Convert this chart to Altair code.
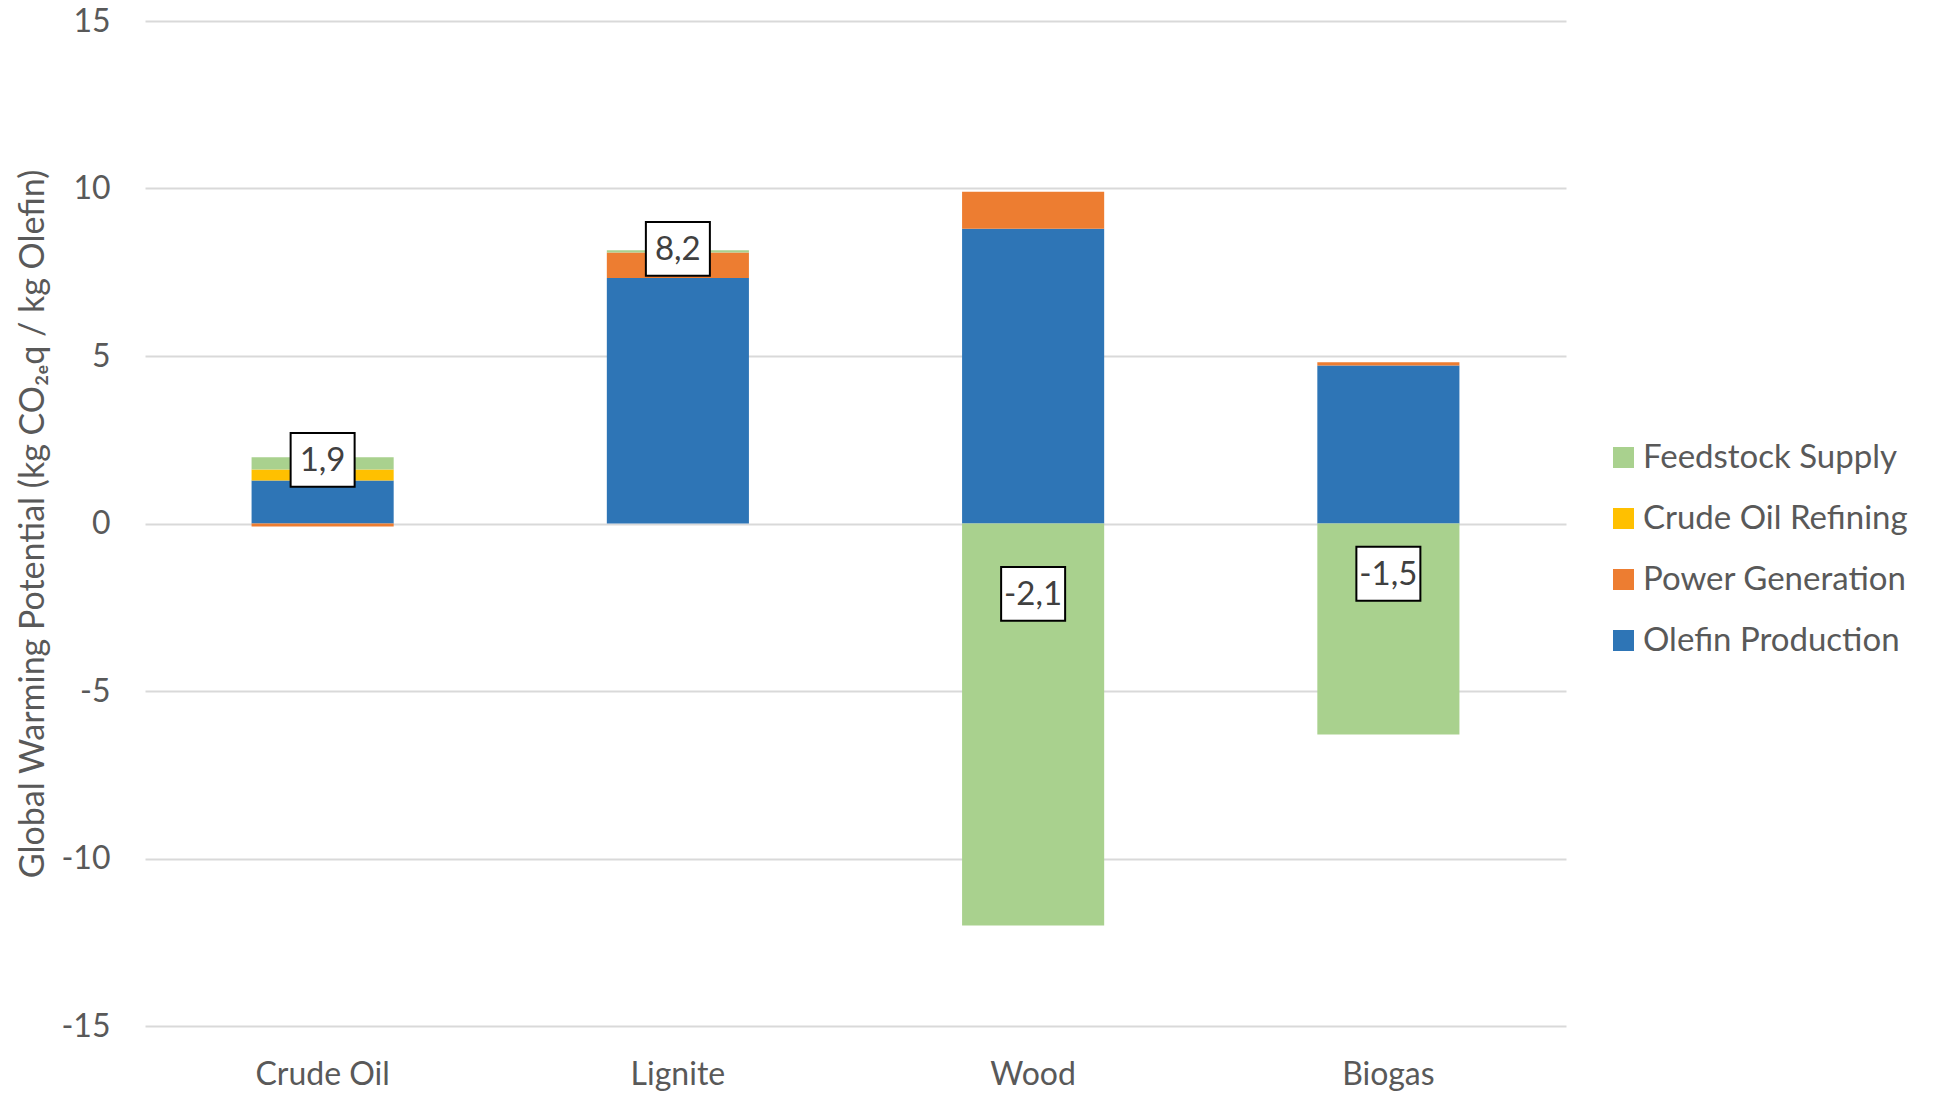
import altair as alt
import pandas as pd

categories = ["Crude Oil", "Lignite", "Wood", "Biogas"]
series = ["Olefin Production", "Power Generation", "Crude Oil Refining", "Feedstock Supply"]
olefin_production = [1.28, 7.33, 8.80, 4.72]
power_generation = [-0.09, 0.76, 1.10, 0.09]
crude_oil_refining = [0.33, 0.0, 0.0, 0.0]
feedstock_supply = [0.37, 0.07, -12.0, -6.30]
totals = [1.9, 8.2, -2.1, -1.5]
total_labels = ["1,9", "8,2", "-2,1", "-1,5"]
colors = ["#2E75B6", "#ED7D31", "#FFC000", "#A9D18E"]
legend_order = ["Feedstock Supply", "Crude Oil Refining", "Power Generation", "Olefin Production"]

rows = []
for i, c in enumerate(categories):
    for k, (s, vals) in enumerate(zip(series, [olefin_production, power_generation, crude_oil_refining, feedstock_supply])):
        rows.append({"cat": c, "series": s, "value": vals[i], "order": k})
df = pd.DataFrame(rows)
tot = pd.DataFrame({"cat": categories, "total": totals, "label": total_labels})

FONT = "Lato"
TXT = "#595959"
H = 1005

x_enc = alt.X("cat:N", sort=categories, title=None,
              scale=alt.Scale(paddingInner=0.6, paddingOuter=0.3),
              axis=alt.Axis(domain=False, ticks=False, labelAngle=0, labelFontSize=32,
                            labelColor=TXT, labelFont=FONT, labelPadding=33, grid=False))
y_scale = alt.Scale(domain=[-15, 15], nice=False)

bars = alt.Chart(df).mark_bar().encode(
    x=x_enc,
    y=alt.Y("value:Q", stack="zero", scale=y_scale,
            title="Global Warming Potential (kg CO₂ₑq / kg Olefin)",
            axis=alt.Axis(values=[-15, -10, -5, 0, 5, 10, 15], domain=False, ticks=False,
                          labelExpr="replace(format(datum.value, 'd'), '−', '-')",
                          labelFontSize=32, labelColor=TXT, labelFont=FONT, labelPadding=35,
                          gridColor="#D9D9D9", gridWidth=2,
                          titleFont=FONT, titleFontSize=34, titleColor=TXT, titleFontWeight="normal",
                          titleX=-112, titleY=H / 2, titleAngle=270, titleAlign="center",
                          titleBaseline="middle")),
    color=alt.Color("series:N", scale=alt.Scale(domain=series, range=colors),
                    sort=legend_order,
                    legend=alt.Legend(title=None, orient="none", legendX=1462, legendY=420,
                                      symbolType="square", symbolSize=441, symbolStrokeWidth=0,
                                      symbolOpacity=1, labelFontSize=33, labelFont=FONT,
                                      labelColor=TXT, rowPadding=27, labelOffset=3,
                                      labelLimit=500, values=legend_order)),
    order=alt.Order("order:Q", sort="ascending"),
)

boxes = alt.Chart(tot).mark_point(
    shape="M-1,-0.84L1,-0.84L1,0.84L-1,0.84Z", size=4096, filled=True,
    fill="white", stroke="black", strokeWidth=2, opacity=1
).encode(x=alt.X("cat:N", sort=categories),
         y=alt.Y("total:Q", scale=y_scale))

labels = alt.Chart(tot).mark_text(
    font=FONT, fontSize=33, color="#404040", baseline="middle", align="center", dy=1
).encode(x=alt.X("cat:N", sort=categories),
         y=alt.Y("total:Q", scale=y_scale), text="label:N")

chart = alt.layer(bars, boxes, labels).properties(
    width=1421, height=H,
    background="white",
    autosize=alt.AutoSizeParams(type="none"),
    padding={"left": 145, "top": 21, "right": 368, "bottom": 1095 - 21 - H},
).configure_view(stroke="transparent", strokeWidth=0)

chart.save("out.html", embed_options={"renderer": "svg", "actions": False})
